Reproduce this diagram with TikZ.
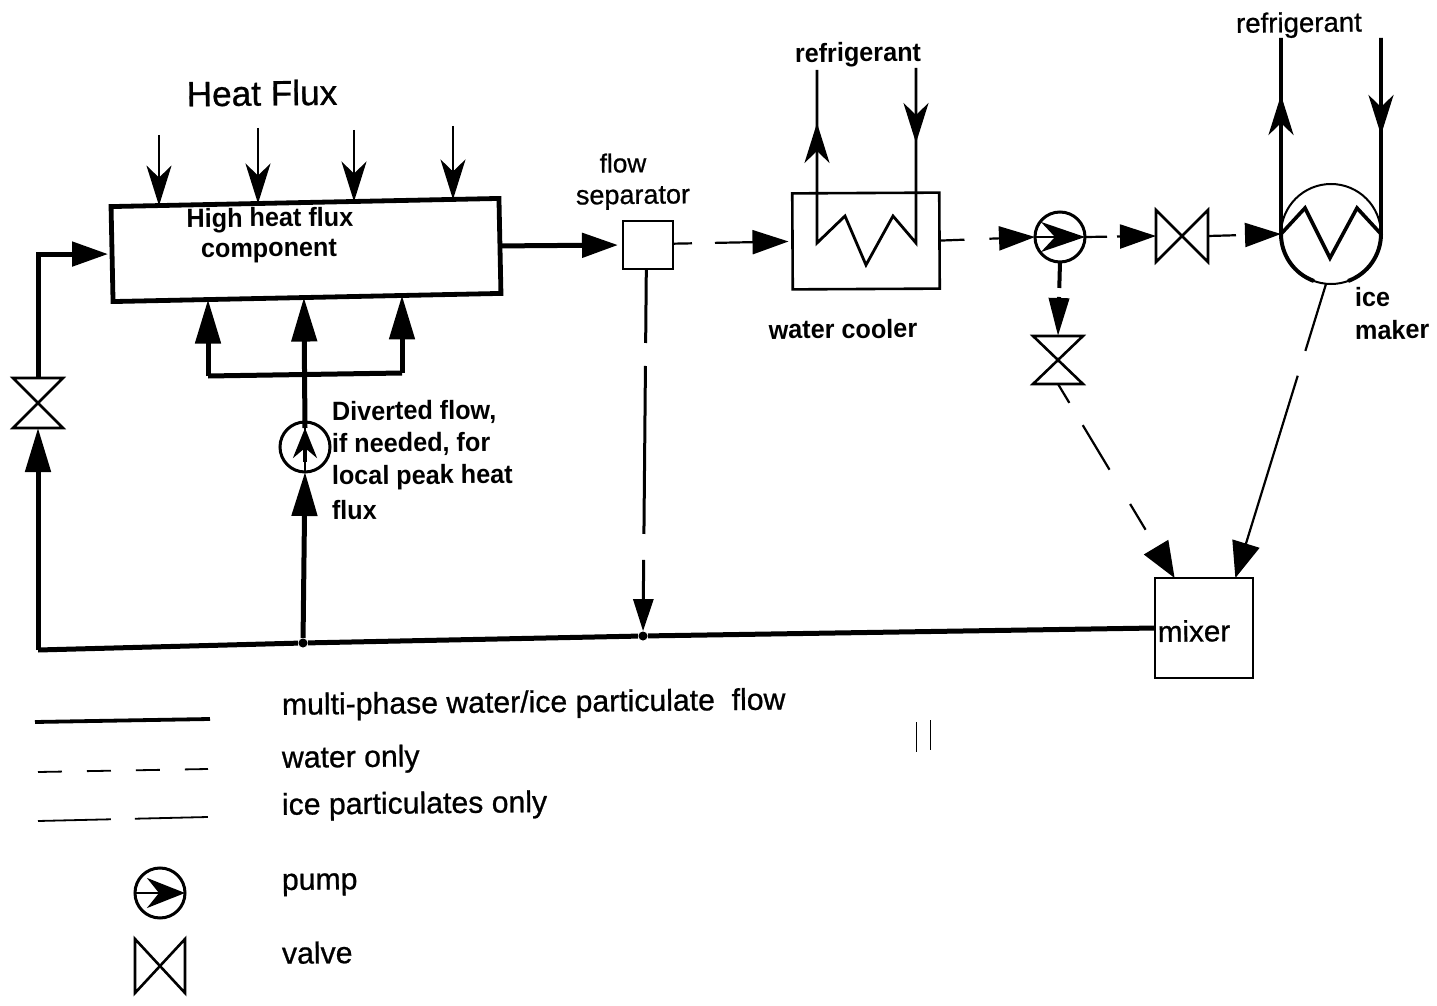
\documentclass[tikz,border=0pt]{standalone}
\usepackage{fontspec}
\setmainfont{Liberation Sans}
\usetikzlibrary{arrows.meta,calc}
\newfontfamily\bfam[FakeStretch=0.955]{Liberation Sans Bold}
\newfontfamily\rfam[FakeBold=0.8]{Liberation Sans}
\tikzset{
  pipe/.style={line width=2.5pt},
  thin pipe/.style={line width=1.4pt},
  water/.style={line width=1.1pt},
  iceline/.style={line width=1.1pt},
  tri/.tip={Triangle[length=18pt,width=12pt]},
  tall/.tip={Triangle[length=22pt,width=12.5pt]},
  barb/.tip={Stealth[length=20pt,width=12.5pt,inset=6pt]},
  comp/.style={draw,rectangle,inner sep=0pt,outer sep=0pt},
  lab/.style={inner sep=0pt,outer sep=0pt,font=\rfam\fontsize{15.1pt}{17pt}\selectfont,rotate=0.6},
  blab/.style={inner sep=0pt,outer sep=0pt,font=\bfam\fontsize{13.2pt}{16pt}\selectfont,rotate=0.5},
  valvebox/.style={inner sep=0pt,outer sep=0pt,rectangle},
  valveline/.style={line width=1.3pt,line join=miter},
  pumpc/.style={draw,circle,inner sep=0pt,outer sep=0pt,line width=1.5pt,minimum size=25pt},
  dot/.style={circle,fill=black,inner sep=0pt,minimum size=4.5pt},
}
\newcommand{\valveH}[1]{\draw[valveline] (#1.north west)--(#1.south east)--(#1.north east)--(#1.south west)--cycle;}
\newcommand{\valveV}[1]{\draw[valveline] (#1.north west)--(#1.south east)--(#1.south west)--(#1.north east)--cycle;}
\begin{document}
\begin{tikzpicture}[x=0.5pt,y=-0.5pt]
\useasboundingbox (0,0) rectangle (1437,1006);

% components
\node[comp,line width=2.4pt,minimum width=194pt,minimum height=47.5pt,rotate=1.2] (hf) at (306,250) {};
\node[comp,line width=1.2pt,minimum width=25pt,minimum height=24pt] (sep) at (648,245) {};
\node[comp,line width=1.3pt,minimum width=73.5pt,minimum height=48pt,rotate=0.3] (cool) at (866,241) {};
\node[comp,line width=1.3pt,minimum width=49pt,minimum height=50pt] (mix) at (1204,628) {};
\node[pumpc] (p1) at (305,447) {};
\node[pumpc] (p2) at (1060,237) {};
\node[pumpc] (p3) at (160,893) {};
\node[draw,circle,inner sep=0pt,outer sep=0pt,line width=1pt,minimum size=50pt] (ice) at (1331,234) {};

\node[valvebox,minimum width=25pt,minimum height=25pt] (v1) at (38,403) {};
\node[valvebox,minimum width=26pt,minimum height=26pt] (v2) at (1182,236) {};
\node[valvebox,minimum width=25pt,minimum height=24pt] (v3) at (1058,360) {};
\node[valvebox,minimum width=25pt,minimum height=27pt] (v4) at (160,966) {};
\valveV{v1}\valveH{v2}\valveV{v3}\valveH{v4}

% main line
\coordinate (j0) at (38,650);
\node[dot] (j1) at (303,643) {};
\node[dot] (j2) at (643,636) {};
\draw[pipe] (j0)--(j1)--(j2)--(mix.west);

% left branch
\draw[pipe,-{tall}] (j0)--(v1.south);
\draw[pipe,-{tri},shorten >=2pt] (v1.north) |- (hf.west);

% heat flux arrows
\foreach \n/\t/\tx/\ty in {a/.121/159/135,b/.374/258/128,c/.621/354/130,d/.876/453/126}{
  \coordinate (ht\n) at ($(hf.north west)!\t!(hf.north east)$);
  \coordinate (hs\n) at (\tx,\ty);
  \draw[thin pipe,line width=1.2pt,-{barb}] (hs\n)--(hs\n |- ht\n);
}

% center and manifold
\draw[pipe,-{tall}] (j1)--(p1.south);
\coordinate (pins) at (305,462);
\coordinate (pin) at (305,428);
\draw[line width=1.2pt] (p1.south)--(p1.north);
\draw[line width=1.8pt,-{Stealth[length=15pt,width=12pt,inset=5pt]}] (pins)--(pin);
\coordinate (hb) at ($(hf.south west)!.492!(hf.south east)$);
\draw[pipe,-{tall}] (pin)--(hb);
\coordinate (ml) at (208,376);
\coordinate (mr) at (402,373);
\coordinate (hbl) at ($(hf.south west)!.247!(hf.south east)$);
\coordinate (hbr) at ($(hf.south west)!.747!(hf.south east)$);
\draw[pipe,line join=miter] (ml)--(mr);
\draw[pipe,-{tall}] (ml)--(ml |- hbl);
\draw[pipe,-{tall}] (mr)--(mr |- hbr);

% hf to separator
\draw[pipe,-{tri},shorten >=2.5pt] (hf.east)--(sep.west);

% separator to cooler and mixer path
\draw[water,-{tri},dash pattern=on 9.5pt off 11.5pt on 60pt,shorten >=2pt] (sep.3)--(cool.west);
\draw[iceline,line width=1.5pt,-{Triangle[length=16pt,width=10pt]},dash pattern=on 37pt off 11.5pt on 84pt off 13pt on 30pt] (sep.266)--(j2);

% cooler
\coordinate (cl0) at (817,243);\coordinate (cr0) at (916,243);
\coordinate (clt) at (817,70);\coordinate (crt) at (916,68);
\coordinate (cla) at (817,123);\coordinate (cra) at (916,143);
\draw[thin pipe,line join=miter] (clt)--(cl0)--(845,216)--(866,265)--(893,216)--(cr0)--(crt);
\draw[thin pipe,-{barb}] (cl0)--(cla);
\draw[thin pipe,-{barb}] (crt)--(cra);

% cooler to pump to valve to ice maker
\draw[water,-{tri},dash pattern=on 12.5pt off 12.5pt on 60pt] (cool.east)--(p2.west);
\draw[line width=1.2pt,-{Stealth[length=22pt,width=15pt,inset=7pt]}] (p2.west)--(p2.east);
\draw[water,-{tri},dash pattern=on 11pt off 5pt on 60pt] (p2.east)--(v2.west);
\draw[water,-{tri},dash pattern=on 14pt off 4.5pt on 60pt] (v2.east)--(ice.west);
\draw[line width=2pt,-{Triangle[length=19pt,width=10pt]},dash pattern=on 13pt off 4.5pt on 60pt] (p2.south)--(v3.north);

% ice maker coil and refrigerant pipes
\coordinate (il) at (ice.west);\coordinate (ir) at (ice.east);
\coordinate (ilt) at (1281,38);\coordinate (irt) at (1381,38);
\coordinate (ila) at (1281,95);\coordinate (ira) at (1381,135);
\draw[line width=1.8pt,line join=miter] (ilt)--(il)--(1305,208)--(1330,258)--(1357,208)--(ir)--(irt);
\draw[line width=1.8pt,-{barb}] (il)--(ila);
\draw[line width=1.8pt,-{barb}] (irt)--(ira);
\draw[line width=2pt] (il) arc[start angle=180,end angle=250,radius=25pt];
\draw[line width=2pt] (ir) arc[start angle=0,end angle=-70,radius=25pt];

% to mixer
\coordinate (mxl) at ($(mix.north west)!.2!(mix.north east)$);
\coordinate (mxr) at ($(mix.north west)!.82!(mix.north east)$);
\draw[water,-{Triangle[length=18pt,width=14pt]},dash pattern=on 11pt off 13pt on 26pt off 20pt on 15pt off 100pt] (v3.south)--(mxl);
\coordinate (icb) at ($(ice.center)+(-5,50)$);
\draw[water,-{Triangle[length=18pt,width=14pt]},dash pattern=on 35pt off 13pt on 90pt] (icb)--(mxr);

% legend lines
\coordinate (ls1) at (35,722);\coordinate (le1) at (210,719);
\coordinate (ls2) at (38,772);\coordinate (le2) at (208,769);
\coordinate (ls3) at (38,821);\coordinate (le3) at (208,817);
\draw[line width=1.9pt] (ls1)--(le1);
\draw[line width=.9pt,dash pattern=on 12pt off 12.5pt] (ls2)--(le2);
\draw[line width=.9pt,dash pattern=on 36.5pt off 12pt] (ls3)--(le3);
\draw[line width=1.2pt,-{Stealth[length=19pt,width=15pt,inset=6pt]}] (p3.west)--(p3.east);

% stray marks of the print
\coordinate (sa) at (916,722);\coordinate (sb) at (916,752);
\coordinate (sc) at (930,720);\coordinate (sd) at (930,750);
\draw[line width=.5pt] (sa)--(sb) (sc)--(sd);

% text
\node[lab,font=\rfam\fontsize{17.6pt}{20pt}\selectfont] (t1) at (262,93) {Heat Flux};
\node[blab] (t2) at (270,220) {High heat flux};
\node[blab] (t3) at (269,251) {component};
\node[blab,anchor=west] (t4) at (332,413) {Diverted flow,};
\node[blab,anchor=west] (t5) at (332,445) {if needed, for};
\node[blab,anchor=west] (t6) at (332,478) {local peak heat};
\node[blab,anchor=west] (t7) at (332,510) {flux};
\node[lab,font=\rfam\fontsize{13.1pt}{15pt}\selectfont] (t8) at (623,163) {flow};
\node[lab,font=\rfam\fontsize{13.5pt}{15pt}\selectfont] (t9) at (633,198) {separator};
\node[blab] (t10) at (858,55) {refrigerant};
\node[lab,font=\rfam\fontsize{13.8pt}{15pt}\selectfont] (t11) at (1299,25) {refrigerant};
\node[blab] (t12) at (843,329) {water cooler};
\node[blab,anchor=west] (t13) at (1355,297) {ice};
\node[blab,anchor=west] (t14) at (1355,330) {maker};
\node[lab,font=\rfam\fontsize{14.8pt}{16pt}\selectfont] (t15) at (1194,631) {mixer};
\node[lab,anchor=west] (t16) at (282,707) {multi-phase water/ice particulate~ flow};
\node[lab,anchor=west] (t17) at (282,760) {water only};
\node[lab,anchor=west] (t18) at (282,807) {ice particulates only};
\node[lab,anchor=west] (t19) at (282,885) {pump};
\node[lab,anchor=west] (t20) at (282,953) {valve};
\end{tikzpicture}
\end{document}
